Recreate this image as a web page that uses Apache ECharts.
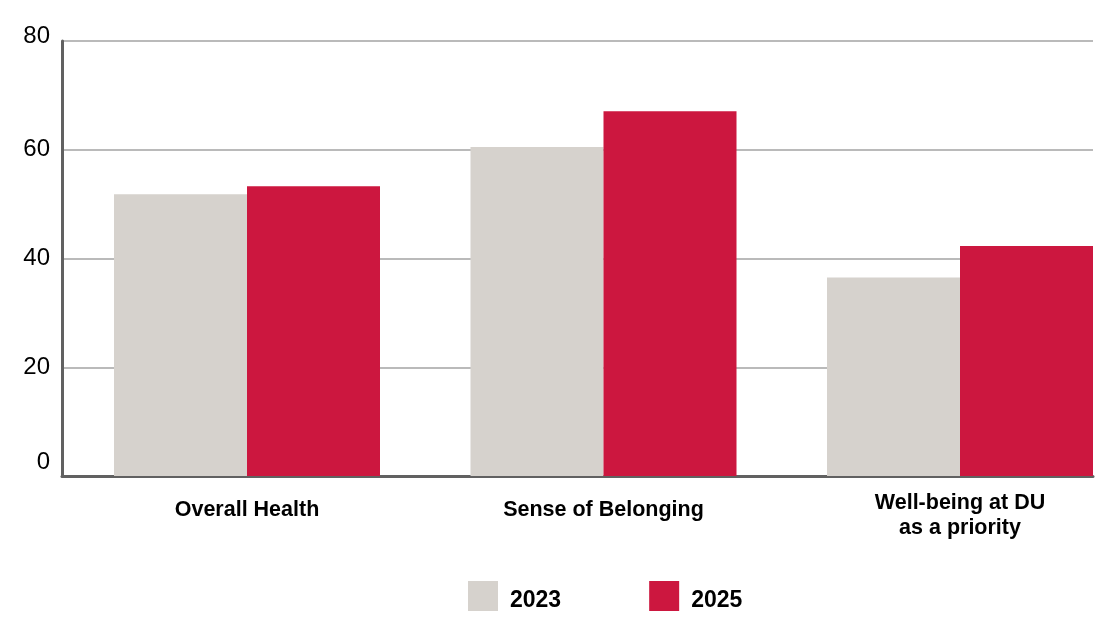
<!DOCTYPE html>
<html>
<head>
<meta charset="utf-8">
<script src="https://cdn.jsdelivr.net/npm/echarts@6/dist/echarts.min.js"></script>
<style>
html,body{margin:0;padding:0;background:#fff;}
#chart{width:1115px;height:634px;}
</style>
</head>
<body>
<div id="chart"></div>
<script>
var categories = ['Overall Health', 'Sense of Belonging', 'Well-being at DU\nas a priority'];
var seriesNames = ['2023', '2025'];
var values2023 = [51.8, 60.5, 36.5];
var values2025 = [53.3, 67.1, 42.3];
var yTicks = [0, 20, 40, 60, 80];

var FONT = "'Liberation Sans', Arial, Helvetica, sans-serif";
var GRAY = '#D6D2CD';
var RED = '#CC173F';

var catStyle = { fontSize: 21.5, fontWeight: 'bold', color: '#000', fontFamily: FONT, lineHeight: 25 };

var chart = echarts.init(document.getElementById('chart'));
chart.setOption({
  animation: false,
  textStyle: { fontFamily: FONT },
  legend: {
    data: seriesNames,
    left: 463,
    top: 576,
    itemWidth: 30,
    itemHeight: 30,
    itemGap: 88,
    icon: 'rect',
    formatter: function (name) { return '{a|' + name + '}'; },
    textStyle: {
      fontSize: 23, fontWeight: 'bold', color: '#000', fontFamily: FONT,
      rich: { a: { fontSize: 23, fontWeight: 'bold', color: '#000', fontFamily: FONT, padding: [10, 0, 0, 7] } }
    }
  },
  grid: [
    { left: 62, right: 22, top: 41, bottom: 158 },
    { left: 247, right: 155, top: 41, bottom: 158 }
  ],
  xAxis: [
    {
      type: 'category', gridIndex: 0, data: categories,
      axisLine: { show: true, lineStyle: { color: '#616161', width: 3 } },
      axisTick: { show: false }, axisLabel: { show: false }, splitLine: { show: false }
    },
    {
      type: 'category', gridIndex: 1, data: categories, boundaryGap: false,
      axisLine: { show: false }, axisTick: { show: false },
      axisLabel: {
        show: true, margin: 39.5, interval: 0, verticalAlign: 'middle',
        fontSize: 21.5, fontWeight: 'bold', color: '#000', fontFamily: FONT, lineHeight: 25,
        formatter: function (v) { return v.indexOf('\n') < 0 ? '{s|' + v + '}' : v; },
        rich: {
          s: Object.assign({ padding: [0, 0, 11, 0] }, catStyle)
        }
      }
    }
  ],
  yAxis: [
    {
      type: 'value', gridIndex: 0, min: yTicks[0], max: yTicks[yTicks.length - 1], interval: 20,
      axisLine: { show: true, lineStyle: { color: '#616161', width: 3 } },
      axisTick: { show: false },
      splitLine: { show: true, lineStyle: { color: '#a3a3a3', width: 1.5 } },
      axisLabel: {
        margin: 12, fontSize: 24, color: '#000', fontFamily: FONT,
        formatter: function (v) {
          if (v === 0) return '{z|0}';
          if (v === 80) return '{t|80}';
          return '{n|' + v + '}';
        },
        rich: {
          z: { fontSize: 24, color: '#000', fontFamily: FONT, padding: [0, 0, 28, 0] },
          t: { fontSize: 24, color: '#000', fontFamily: FONT, padding: [0, 0, 10, 0] },
          n: { fontSize: 24, color: '#000', fontFamily: FONT }
        }
      }
    },
    {
      type: 'value', gridIndex: 1, min: yTicks[0], max: yTicks[yTicks.length - 1], interval: 20,
      show: false, splitLine: { show: false }
    }
  ],
  series: [
    {
      name: seriesNames[0], type: 'bar', xAxisIndex: 1, yAxisIndex: 1, clip: false,
      data: values2023, barWidth: 133, barGap: '0%',
      itemStyle: { color: GRAY }
    },
    {
      name: seriesNames[1], type: 'bar', xAxisIndex: 1, yAxisIndex: 1, clip: false,
      data: values2025, barWidth: 133, barGap: '0%',
      itemStyle: { color: RED }
    }
  ]
});
</script>
</body>
</html>
